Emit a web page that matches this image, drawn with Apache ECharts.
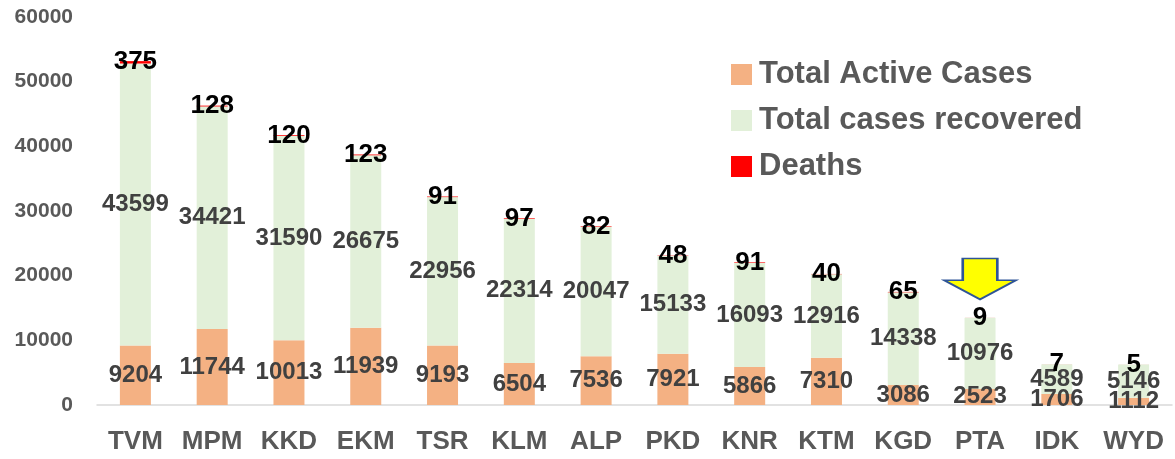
<!DOCTYPE html>
<html>
<head>
<meta charset="utf-8">
<script src="https://cdn.jsdelivr.net/npm/echarts@6/dist/echarts.min.js"></script>
<style>
  html, body { margin: 0; padding: 0; background: #fff; }
  #main { width: 1175px; height: 459px; }
</style>
</head>
<body>
<div id="main"></div>
<script>
// districts
const districts = ['TVM', 'MPM', 'KKD', 'EKM', 'TSR', 'KLM', 'ALP', 'PKD', 'KNR', 'KTM', 'KGD', 'PTA', 'IDK', 'WYD']
const activeCases = [9204, 11744, 10013, 11939, 9193, 6504, 7536, 7921, 5866, 7310, 3086, 2523, 1706, 1112]
const recovered = [43599, 34421, 31590, 26675, 22956, 22314, 20047, 15133, 16093, 12916, 14338, 10976, 4589, 5146]
const deaths = [375, 128, 120, 123, 91, 97, 82, 48, 91, 40, 65, 9, 7, 5]

// arrow marker above PTA
const arrowAt = ['PTA', 19500]

const font = 'Liberation Sans, Arial, sans-serif'

const chart = echarts.init(document.getElementById('main'))

const barLabel = {
  show: true,
  position: 'inside',
  color: '#404040',
  fontWeight: 'bold',
  fontSize: 24,
  fontFamily: font
}

chart.setOption({
  animation: false,
  grid: { left: 97, right: 3, top: 17, bottom: 54, containLabel: false },
  legend: {
    orient: 'vertical',
    left: 726,
    top: 54,
    itemWidth: 21,
    itemHeight: 21,
    itemGap: 15,
    icon: 'rect',
    textStyle: {
      color: '#595959', fontSize: 31, lineHeight: 31, fontWeight: 'bold', fontFamily: font,
      padding: [0, 0, 0, 2]
    },
    data: ['Total Active Cases', 'Total cases recovered', 'Deaths']
  },
  xAxis: {
    type: 'category',
    data: districts,
    axisLine: { lineStyle: { color: '#d9d9d9', width: 1.5 } },
    axisTick: { show: false },
    axisLabel: { interval: 0, color: '#595959', fontSize: 26, fontWeight: 'bold', fontFamily: font, margin: 24 }
  },
  yAxis: {
    type: 'value',
    min: 0,
    max: 60000,
    interval: 10000,
    splitLine: { show: false },
    axisLine: { show: false },
    axisTick: { show: false },
    axisLabel: {
      formatter: v => String(v),
      color: '#595959', fontSize: 21, fontWeight: 'bold', fontFamily: font, margin: 24
    }
  },
  series: [
    {
      name: 'Total Active Cases',
      type: 'bar',
      stack: 'total',
      barWidth: 31,
      data: activeCases,
      itemStyle: { color: '#F4B183' },
      label: barLabel,
      markPoint: {
        symbol: 'path://M26,0 L74,0 L74,53 L100,53 L50,100 L0,53 L26,53 Z',
        symbolSize: [72, 41],
        symbolKeepAspect: false,
        itemStyle: { color: '#FFFF00', borderColor: '#2F5597', borderWidth: 2 },
        label: { show: false },
        data: [{ coord: arrowAt }]
      }
    },
    {
      name: 'Total cases recovered',
      type: 'bar',
      stack: 'total',
      barWidth: 31,
      data: recovered,
      itemStyle: { color: '#E2F0D9' },
      label: barLabel
    },
    {
      name: 'Deaths',
      type: 'bar',
      stack: 'total',
      barWidth: 31,
      data: deaths,
      itemStyle: { color: '#FF0000' },
      label: {
        show: true,
        position: 'inside',
        color: '#000000',
        fontWeight: 'bold',
        fontSize: 26,
        fontFamily: font
      }
    }
  ]
})
</script>
</body>
</html>
